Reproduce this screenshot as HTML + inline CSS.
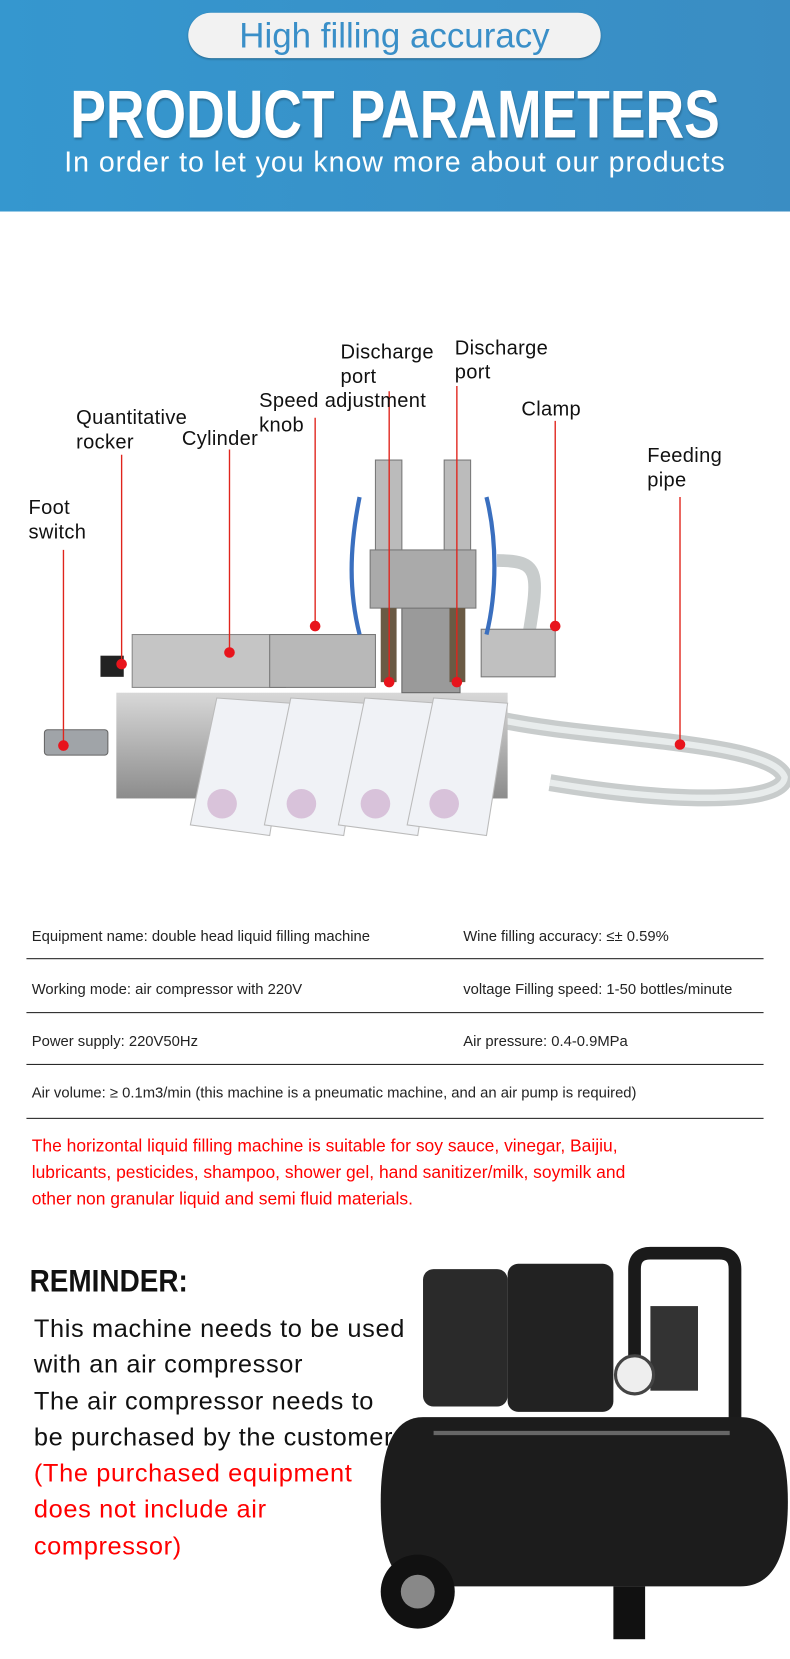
<!DOCTYPE html>
<html><head><meta charset="utf-8"><style>
html,body{margin:0;padding:0;background:#fff;width:790px;height:1659px;overflow:hidden}
#w{position:absolute;left:0;top:0;width:747px;height:1569px;transform:scale(1.05756);transform-origin:0 0;font-family:"Liberation Sans",sans-serif}
.hdr{position:absolute;left:0;top:0;width:747px;height:200px;background:linear-gradient(90deg,#3597cf,#3a8dc3)}
.pill{position:absolute;left:178px;top:12px;width:390px;height:43px;border-radius:22px;background:#f2f2f2;color:#3a8fc8;font-size:33px;text-align:center;line-height:43px;box-shadow:0 1px 2px rgba(0,0,0,.3);white-space:nowrap}
.t1{position:absolute;left:-200px;width:1147px;top:76px;text-align:center;color:#fff;font-size:64px;line-height:64px;font-weight:bold;white-space:nowrap;transform:scaleX(.79);transform-origin:center;text-shadow:1px 2px 2px rgba(0,0,0,.25)}
.t2{position:absolute;left:-100px;width:947px;top:138px;text-align:center;color:#fff;font-size:27px;letter-spacing:.9px;white-space:nowrap}
.lb{position:absolute;font-size:19px;line-height:23px;color:#111;letter-spacing:.3px;white-space:nowrap}
.row{position:absolute;left:25px;width:697px;border-bottom:1.5px solid #222;font-size:14px;color:#222}
.row span{position:absolute;top:0;white-space:nowrap}
.red{position:absolute;left:30px;top:1072px;color:#f00;font-size:16.5px;line-height:25px;width:700px}
.rem{position:absolute;left:28px;top:1195px;font-size:30px;font-weight:bold;color:#111;transform:scaleX(.88);transform-origin:0 0}
.rt{position:absolute;left:32px;top:1240px;font-size:24px;line-height:34.3px;color:#111;letter-spacing:.6px;white-space:nowrap}
</style></head><body><div id="w">
<div class="hdr"></div>
<div class="pill">High filling accuracy</div>
<div class="t1">PRODUCT PARAMETERS</div>
<div class="t2">In order to let you know more about our products</div>

<svg style="position:absolute;left:0;top:300px" width="747" height="560" viewBox="0 300 747 560">
<defs><linearGradient id="m" x1="0" x2="0" y1="0" y2="1"><stop offset="0" stop-color="#d8d8d8"/><stop offset="1" stop-color="#8c8c8c"/></linearGradient></defs>
<path d="M470 680 C560 700 730 700 742 735 C740 760 640 760 520 740" stroke="#c8cccc" stroke-width="16" fill="none"/>
<path d="M470 680 C560 700 730 700 742 735 C740 760 640 760 520 740" stroke="#e8ecec" stroke-width="6" fill="none"/>
<path d="M500 600 C510 540 510 530 470 530" stroke="#c8cccc" stroke-width="12" fill="none"/>
<rect x="110" y="655" width="370" height="100" fill="url(#m)"/>
<rect x="125" y="600" width="145" height="50" fill="#c5c5c5" stroke="#888"/>
<rect x="255" y="600" width="100" height="50" fill="#b8b8b8" stroke="#777"/>
<rect x="380" y="575" width="55" height="80" fill="#9a9a9a" stroke="#666"/>
<rect x="355" y="435" width="25" height="90" fill="#bbb" stroke="#777"/>
<rect x="420" y="435" width="25" height="90" fill="#bbb" stroke="#777"/>
<rect x="350" y="520" width="100" height="55" fill="#aaa" stroke="#777"/>
<rect x="360" y="575" width="15" height="70" fill="#6a5a44"/>
<rect x="425" y="575" width="15" height="70" fill="#6a5a44"/>
<rect x="455" y="595" width="70" height="45" fill="#c0c0c0" stroke="#777"/>
<path d="M340 470 C330 520 330 560 340 600 M460 470 C470 510 470 560 460 600" stroke="#3a6fbf" stroke-width="4" fill="none"/>
<rect x="95" y="620" width="22" height="20" fill="#222"/>
<rect x="42" y="690" width="60" height="24" rx="3" fill="#a0a4a8" stroke="#666"/>
<g fill="#f0f2f6" stroke="#bbb">
<path d="M205 660 L275 665 L255 790 L180 780Z"/>
<path d="M275 660 L345 665 L325 790 L250 780Z"/>
<path d="M345 660 L415 665 L395 790 L320 780Z"/>
<path d="M410 660 L480 665 L460 790 L385 780Z"/>
</g>
<g fill="#c9a3c8" opacity=".6"><circle cx="210" cy="760" r="14"/><circle cx="285" cy="760" r="14"/><circle cx="355" cy="760" r="14"/><circle cx="420" cy="760" r="14"/></g>
<g stroke="#e0241c" stroke-width="1.3">
<line x1="60" y1="520" x2="60" y2="705"/><line x1="115" y1="430" x2="115" y2="628"/>
<line x1="217" y1="425" x2="217" y2="617"/><line x1="298" y1="395" x2="298" y2="592"/>
<line x1="368" y1="370" x2="368" y2="645"/><line x1="432" y1="365" x2="432" y2="645"/>
<line x1="525" y1="398" x2="525" y2="592"/><line x1="643" y1="470" x2="643" y2="704"/>
</g>
<g fill="#e8141c"><circle cx="60" cy="705" r="5"/><circle cx="115" cy="628" r="5"/><circle cx="217" cy="617" r="5"/><circle cx="298" cy="592" r="5"/><circle cx="368" cy="645" r="5"/><circle cx="432" cy="645" r="5"/><circle cx="525" cy="592" r="5"/><circle cx="643" cy="704" r="5"/></g>
</svg>
<div class="lb" style="left:322px;top:322px">Discharge<br>port</div>
<div class="lb" style="left:430px;top:318px">Discharge<br>port</div>
<div class="lb" style="left:245px;top:368px">Speed adjustment<br>knob</div>
<div class="lb" style="left:72px;top:384px">Quantitative<br>rocker</div>
<div class="lb" style="left:172px;top:404px">Cylinder</div>
<div class="lb" style="left:493px;top:376px">Clamp</div>
<div class="lb" style="left:612px;top:420px">Feeding<br>pipe</div>
<div class="lb" style="left:27px;top:469px">Foot<br>switch</div>

<div class="row" style="top:877px;height:29px"><span style="left:5px">Equipment name: double head liquid filling machine</span><span style="left:413px">Wine filling accuracy: ≤± 0.59%</span></div>
<div class="row" style="top:927px;height:30px"><span style="left:5px">Working mode: air compressor with 220V</span><span style="left:413px">voltage Filling speed: 1-50 bottles/minute</span></div>
<div class="row" style="top:976px;height:30px"><span style="left:5px">Power supply: 220V50Hz</span><span style="left:413px">Air pressure: 0.4-0.9MPa</span></div>
<div class="row" style="top:1025px;height:32px"><span style="left:5px">Air volume: ≥ 0.1m3/min (this machine is a pneumatic machine, and an air pump is required)</span></div>
<div class="red">The horizontal liquid filling machine is suitable for soy sauce, vinegar, Baijiu,<br>lubricants, pesticides, shampoo, shower gel, hand sanitizer/milk, soymilk and<br>other non granular liquid and semi fluid materials.</div>

<svg style="position:absolute;left:350px;top:1175px" width="397" height="390" viewBox="350 1175 397 390">
<path d="M600 1300 L600 1200 Q600 1185 615 1185 L680 1185 Q695 1185 695 1200 L695 1350" stroke="#1a1a1a" stroke-width="12" fill="none"/>
<rect x="400" y="1200" width="80" height="130" rx="10" fill="#2a2a2a"/>
<rect x="480" y="1195" width="100" height="140" rx="10" fill="#222"/>
<rect x="615" y="1235" width="45" height="80" fill="#333"/>
<circle cx="600" cy="1300" r="18" fill="#eee" stroke="#444" stroke-width="3"/>
<path d="M400 1340 L700 1340 Q745 1340 745 1420 Q745 1500 700 1500 L400 1500 Q360 1500 360 1420 Q360 1340 400 1340Z" fill="#1c1c1c"/>
<path d="M410 1355 L690 1355" stroke="#666" stroke-width="4"/>
<circle cx="395" cy="1505" r="35" fill="#111"/><circle cx="395" cy="1505" r="16" fill="#888"/>
<rect x="580" y="1500" width="30" height="50" fill="#111"/>
</svg>
<div class="rem">REMINDER:</div>
<div class="rt">This machine needs to be used<br>with an air compressor<br>The air compressor needs to<br>be purchased by the customer<br><span style="color:#f00">(The purchased equipment<br>does not include air<br>compressor)</span></div>
</div></body></html>
